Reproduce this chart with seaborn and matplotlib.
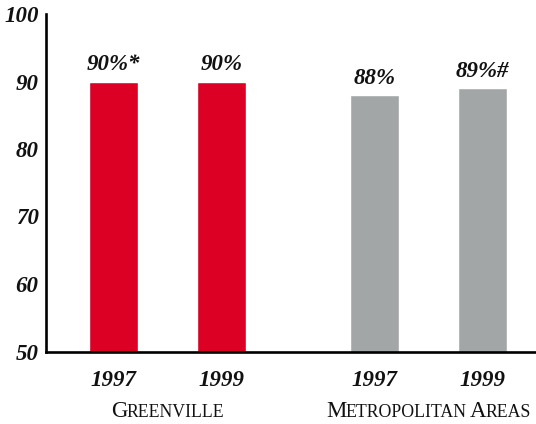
import matplotlib
matplotlib.use("Agg")
import matplotlib.pyplot as plt
import matplotlib.transforms as mtransforms
import seaborn as sns
import pandas as pd

# Share of respondents, by place and survey year
groups = ["Greenville", "Greenville", "Metropolitan Areas", "Metropolitan Areas"]
years = ["1997", "1999", "1997", "1999"]
percent = [90, 90, 88, 89]
notes = ["*", "", "", "#"]
y_ticks = [50, 60, 70, 80, 90, 100]

group_colors = {"Greenville": "#DC0024", "Metropolitan Areas": "#A3A6A7"}

sns.set_theme(style="white")
SERIF = ["Liberation Serif", "DejaVu Serif"]
plt.rcParams["font.family"] = SERIF

# bar slots: years side by side, a wider gap between the two places
GROUP_STEP = 2.417
group_order = list(dict.fromkeys(groups))
df = pd.DataFrame({"group": groups, "year": years, "percent": percent, "note": notes})
df["slot"] = df.groupby("group", sort=False).cumcount() + df["group"].map(
    {g: i * GROUP_STEP for i, g in enumerate(group_order)}
)

W, H = 536, 424
fig = plt.figure(figsize=(W / 100, H / 100), dpi=100)
ax = fig.add_axes([45.5 / W, 72.5 / H, 1 - 45.5 / W, (351.5 - 14) / H])

sns.barplot(
    data=df, x="slot", y="percent", hue="group", palette=group_colors,
    native_scale=True, dodge=False, width=0.454, saturation=1,
    errorbar=None, legend=False, ax=ax,
)

ax.set_ylim(50, 100)
ax.set_yticks(y_ticks)
ax.set_xlim(-0.63, 3.912)
ax.set_xticks(df["slot"], df["year"])
ax.set_xlabel("")
ax.set_ylabel("")

num_font = dict(fontsize=16.5, fontstyle="italic", fontweight="bold", color="#111111")
ax.tick_params(axis="y", length=0, pad=5)
ax.tick_params(axis="x", length=0, pad=13)
for lbl in ax.get_xticklabels() + ax.get_yticklabels():
    lbl.set_fontsize(num_font["fontsize"])
    lbl.set_fontstyle("italic")
    lbl.set_fontweight("bold")
    lbl.set_color(num_font["color"])

sns.despine(ax=ax)
for side in ("left", "bottom"):
    ax.spines[side].set_linewidth(1.9)
    ax.spines[side].set_color("black")

# value labels above each bar
for _, row in df.iterrows():
    ax.annotate(
        f"{row['percent']}%{row['note']}", xy=(row["slot"], row["percent"]),
        xytext=(0, 8), textcoords="offset points", ha="center", va="baseline",
        annotation_clip=False, **num_font,
    )

# place names set in small capitals
renderer = fig.canvas.get_renderer()


def small_caps(x, y, text, big=16.5, small=12.8, gap=-0.8, space=3.0):
    pieces = []
    for wi, word in enumerate(text.split(" ")):
        pieces.append((word[0].upper(), big, space if wi else 0.0))
        if len(word) > 1:
            pieces.append((word[1:].upper(), small, gap))
    base = ax.get_xaxis_transform()
    artists = []
    offset = 0.0
    for s, size, lead in pieces:
        offset += lead
        tr = base + mtransforms.ScaledTranslation(offset / fig.dpi, 0, fig.dpi_scale_trans)
        t = ax.text(x, y, s, transform=tr, ha="left", va="baseline", fontsize=size,
                    color="#111111", clip_on=False)
        offset += t.get_window_extent(renderer).width
        artists.append(t)
    # shift the whole run so it is centred on x
    shift = -offset / 2
    for t in artists:
        t.set_transform(t.get_transform() + mtransforms.ScaledTranslation(
            shift / fig.dpi, 0, fig.dpi_scale_trans))


for g in group_order:
    centre = df.loc[df["group"] == g, "slot"].mean()
    small_caps(centre, -0.193, g)

fig.savefig("out.png", dpi=100)
